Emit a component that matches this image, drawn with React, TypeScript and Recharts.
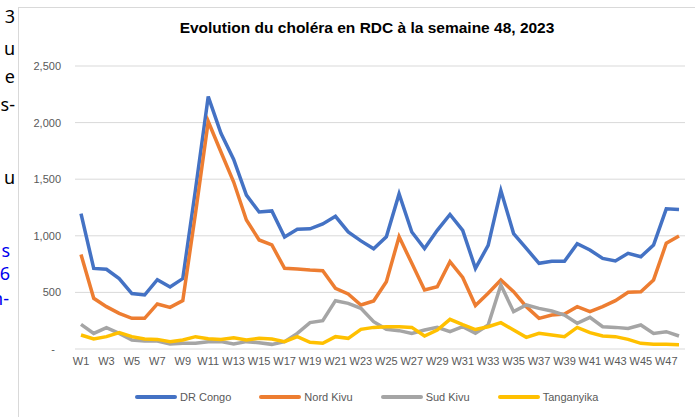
import React from 'react';
import { LineChart, Line, XAxis, YAxis, CartesianGrid } from 'recharts';

const weeks = [
  'W1', 'W2', 'W3', 'W4', 'W5', 'W6', 'W7', 'W8', 'W9', 'W10', 'W11', 'W12',
  'W13', 'W14', 'W15', 'W16', 'W17', 'W18', 'W19', 'W20', 'W21', 'W22', 'W23', 'W24',
  'W25', 'W26', 'W27', 'W28', 'W29', 'W30', 'W31', 'W32', 'W33', 'W34', 'W35', 'W36',
  'W37', 'W38', 'W39', 'W40', 'W41', 'W42', 'W43', 'W44', 'W45', 'W46', 'W47', 'W48',
];

const drCongo = [
  1195, 712, 704, 622, 490, 477, 612, 548, 622, 1410, 2230, 1905,
  1675, 1360, 1210, 1220, 990, 1058, 1062, 1105, 1172, 1034, 955, 886,
  992, 1370, 1034, 888, 1048, 1188, 1048, 712, 915, 1400, 1020, 888,
  757, 775, 775, 930, 875, 800, 778, 845, 815, 918, 1238, 1232,
];

const nordKivu = [
  835, 448, 374, 315, 271, 271, 398, 368, 427, 1200, 2010, 1740,
  1475, 1140, 963, 919, 713, 707, 698, 692, 536, 486, 389, 424,
  595, 992, 757, 521, 550, 772, 632, 385, 492, 610, 506, 374,
  271, 300, 309, 374, 330, 374, 427, 501, 506, 610, 934, 998,
];

const sudKivu = [
  218, 138, 188, 138, 80, 71, 71, 44, 50, 50, 65, 65,
  44, 65, 56, 41, 65, 138, 233, 250, 427, 403, 359, 241,
  174, 162, 138, 168, 191, 153, 197, 140, 212, 565, 330, 389,
  359, 336, 300, 227, 280, 197, 191, 182, 212, 138, 153, 115,
];

const tanganyika = [
  124, 88, 109, 144, 109, 88, 85, 65, 80, 109, 91, 85,
  100, 80, 94, 88, 65, 109, 59, 50, 109, 94, 174, 191,
  197, 197, 191, 115, 168, 262, 215, 172, 197, 233, 168, 103,
  138, 124, 109, 191, 144, 115, 109, 85, 50, 41, 41, 38,
];

const yTicks = [0, 500, 1000, 1500, 2000, 2500];

const series = [
  { key: 'drCongo', name: 'DR Congo', color: '#4472C4', values: drCongo },
  { key: 'nordKivu', name: 'Nord Kivu', color: '#ED7D31', values: nordKivu },
  { key: 'sudKivu', name: 'Sud Kivu', color: '#A5A5A5', values: sudKivu },
  { key: 'tanganyika', name: 'Tanganyika', color: '#FFC000', values: tanganyika },
];

// bits of the neighbouring page text that show at the left edge
const sideText = [
  { text: '3', y: 16, right: 15, color: '#000' },
  { text: 'u', y: 48, right: 15, color: '#000' },
  { text: 'e', y: 76, right: 15, color: '#000' },
  { text: 's-', y: 104, right: 15, color: '#000' },
  { text: 'u', y: 177, right: 15, color: '#000' },
  { text: 's', y: 250, right: 10, color: '#0000EE' },
  { text: '6', y: 273, right: 10, color: '#0000EE' },
  { text: 'n-', y: 298, right: 9, color: '#0000EE' },
];

const data = weeks.map((week, i) => {
  const row: Record<string, string | number> = { week };
  series.forEach(s => { row[s.key] = s.values[i]; });
  return row;
});

const font = '"Liberation Sans", Arial, sans-serif';

const YTick = (props: any) => {
  const { x, y, payload } = props;
  const zero = payload.value === 0;
  return (
    <text x={zero ? x - 6 : x} y={y} dy={4} textAnchor="end" fontSize={11} fill="#595959" fontFamily={font}>
      {zero ? '-' : payload.value.toLocaleString('en-US')}
    </text>
  );
};

export default function App() {
  return (
    <div style={{ position: 'absolute', left: 0, top: 0, width: 695, height: 417, overflow: 'hidden', background: '#fff' }}>
      {sideText.map((t, i) => (
        <span
          key={i}
          style={{
            position: 'absolute', right: 695 - t.right, top: t.y - 12, lineHeight: '24px',
            fontSize: 18, fontFamily: '"Noto Sans", sans-serif', color: t.color, whiteSpace: 'nowrap',
          }}
        >
          {t.text}
        </span>
      ))}
      <div style={{ position: 'absolute', left: 18, top: 7, width: 677, height: 410, borderLeft: '1px solid #d9d9d9', borderTop: '1px solid #d9d9d9' }} />
      <div style={{ position: 'absolute', left: 0, top: 19, width: 734, textAlign: 'center', fontFamily: font, fontWeight: 'bold', fontSize: 15.5, lineHeight: '18px', color: '#000' }}>
        Evolution du choléra en RDC à la semaine 48, 2023
      </div>
      <div style={{ position: 'absolute', left: 0, top: 0 }}>
        <LineChart width={695} height={417} data={data} margin={{ top: 66, right: 10, bottom: 38, left: 0 }}>
          <CartesianGrid vertical={false} stroke="#d9d9d9" strokeWidth={1} />
          <XAxis
            dataKey="week"
            interval={1}
            height={30}
            padding={{ left: 6, right: 6 }}
            axisLine={false}
            tickLine={false}
            tickSize={0}
            tickMargin={8}
            tick={{ fontSize: 11, fill: '#595959', fontFamily: font }}
          />
          <YAxis
            width={75}
            domain={[0, 2500]}
            ticks={yTicks}
            axisLine={false}
            tickLine={false}
            tickSize={0}
            tickMargin={14}
            tick={<YTick />}
          />
          {series.map(s => (
            <Line
              key={s.key}
              type="linear"
              dataKey={s.key}
              name={s.name}
              stroke={s.color}
              strokeWidth={3.5}
              dot={false}
              activeDot={false}
              isAnimationActive={false}
            />
          ))}
        </LineChart>
      </div>
      <div style={{ position: 'absolute', left: 135, top: 389, display: 'flex', alignItems: 'center', gap: 28, fontFamily: font, fontSize: 11, color: '#595959' }}>
        {series.map(s => (
          <div key={s.key} style={{ display: 'flex', alignItems: 'center', lineHeight: '16px' }}>
            <span style={{ display: 'inline-block', width: 42, height: 4, borderRadius: 2, background: s.color, marginRight: 3 }} />
            <span>{s.name}</span>
          </div>
        ))}
      </div>
    </div>
  );
}
